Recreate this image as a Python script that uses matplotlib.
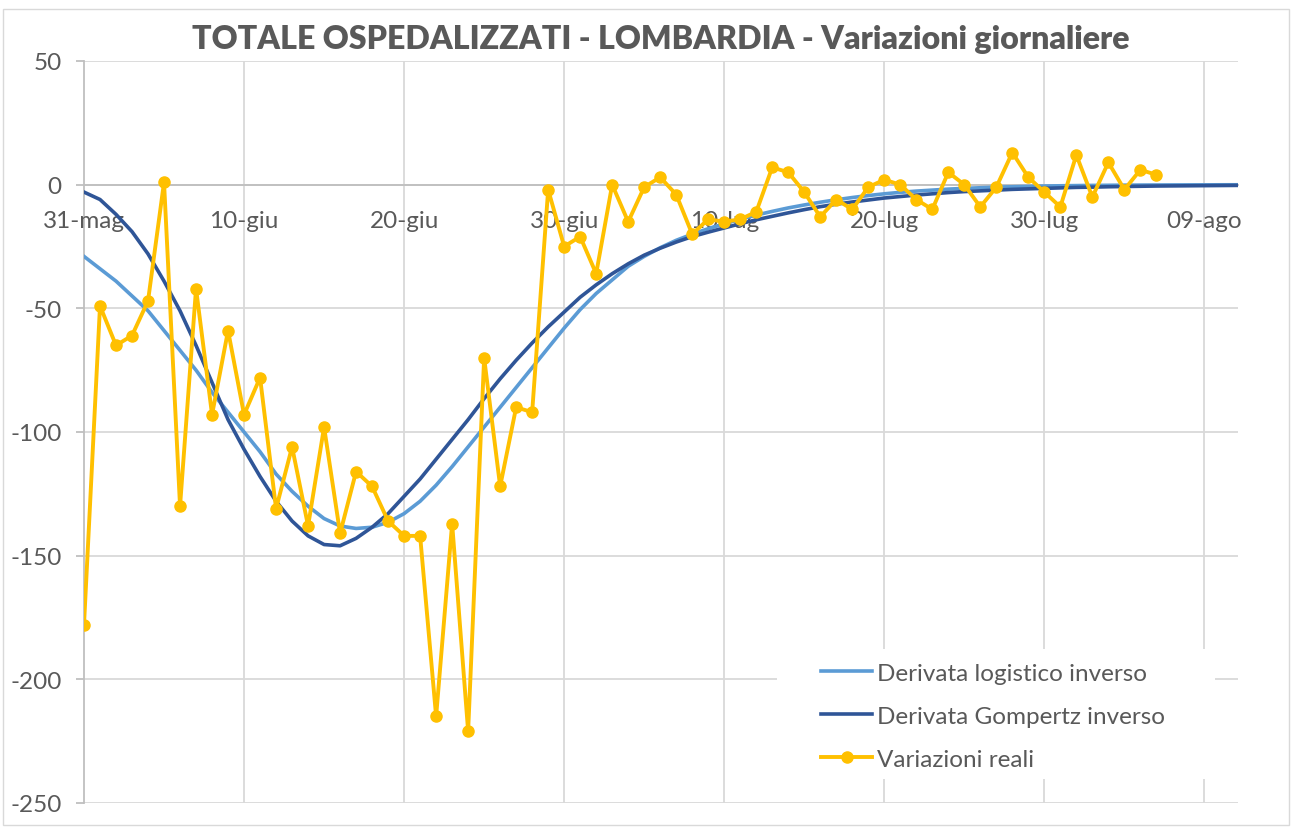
import matplotlib.pyplot as plt
from matplotlib.patches import Rectangle

plt.rcParams["font.family"] = ["Lato", "DejaVu Sans"]
plt.rcParams["axes.unicode_minus"] = False

# days since 31 May
tick_days = [0, 10, 20, 30, 40, 50, 60, 70]
tick_labels = ["31-mag", "10-giu", "20-giu", "30-giu", "10-lug", "20-lug", "30-lug", "09-ago"]
y_ticks = [50, 0, -50, -100, -150, -200, -250]

real_days = list(range(68))
variazioni_reali = [-178, -49, -65, -61, -47, 1, -130, -42, -93, -59,
                    -93, -78, -131, -106, -138, -98, -141, -116, -122, -136,
                    -142, -142, -215, -137, -221, -70, -122, -90, -92, -2,
                    -25, -21, -36, 0, -15, -1, 3, -4, -20, -14,
                    -15, -14, -11, 7, 5, -3, -13, -6, -10, -1,
                    2, 0, -6, -10, 5, 0, -9, -1, 13, 3,
                    -3, -9, 12, -5, 9, -2, 6, 4]

model_days = list(range(73))
logistico = [-29, -34, -39, -45, -51, -59, -67, -75, -84, -92,
             -100, -108, -117, -124, -130, -135, -138, -139, -138.5, -136.5,
             -133, -128, -121.5, -114, -106, -98, -90, -82, -74, -66,
             -58, -50.5, -44, -38.5, -33, -29, -25.5, -22.5, -20, -17.8,
             -15.8, -14, -12.3, -10.8, -9.4, -8.2, -7.1, -6.1, -5.2, -4.4,
             -3.7, -3.1, -2.6, -2.2, -1.8, -1.5, -1.25, -1.0, -0.85, -0.7,
             -0.55, -0.45, -0.37, -0.3, -0.25, -0.2, -0.16, -0.13, -0.1, -0.08,
             -0.07, -0.05, -0.04]
gompertz = [-3, -6, -12, -19, -28, -39, -51, -65, -80, -95,
            -107, -118, -128, -136, -142, -145.5, -146, -143, -138.5, -133,
            -126, -119, -111, -103, -95, -86.5, -78.5, -71, -64, -57.5,
            -51.5, -45.5, -40.5, -36, -32, -28.5, -25.7, -23.2, -21, -19.2,
            -17.5, -15.8, -14.2, -12.8, -11.4, -10.1, -8.9, -7.9, -7.0, -6.2,
            -5.4, -4.8, -4.2, -3.7, -3.2, -2.8, -2.5, -2.2, -1.9, -1.7,
            -1.5, -1.3, -1.1, -1.0, -0.85, -0.75, -0.65, -0.55, -0.5, -0.45,
            -0.4, -0.35, -0.3]

text_col = "#595959"
grid_col = "#D9D9D9"

fig = plt.figure(figsize=(12.92, 8.29), dpi=100)
ax = fig.add_axes([84 / 1292, 1 - 804 / 829, (1238 - 84) / 1292, (804 - 62) / 829])

# outer chart border
fig.add_artist(Rectangle((3 / 1292, 3 / 829), 1286 / 1292, 816 / 829, transform=fig.transFigure,
                         fill=False, edgecolor=grid_col, linewidth=1))

ax.set_xlim(0, 72.1)
ax.set_ylim(-250, 50)

for y in y_ticks:
    ax.axhline(y, color=grid_col, linewidth=1.3, zorder=0.8)
for d in tick_days[1:]:
    ax.axvline(d, color=grid_col, linewidth=1.3, zorder=0.8)

ax.add_patch(Rectangle((0.6005, 0.032), 0.38, 0.1755, transform=ax.transAxes,
                       facecolor="white", edgecolor="none", zorder=1))

ax.plot(model_days, logistico, color="#5B9BD5", linewidth=2.6, zorder=2,
        label="Derivata logistico inverso")
ax.plot(model_days, gompertz, color="#2F5597", linewidth=2.6, zorder=2.1,
        label="Derivata Gompertz inverso")
ax.plot(real_days, variazioni_reali, color="#FFC000", linewidth=2.8, marker="o",
        markersize=8, zorder=2.2, label="Variazioni reali")

for s in ["top", "right"]:
    ax.spines[s].set_visible(False)
ax.spines["bottom"].set_position(("data", 0))
ax.spines["bottom"].set_color("#BFBFBF")
ax.spines["left"].set_color("#BFBFBF")
ax.spines["bottom"].set_linewidth(1.3)
ax.spines["left"].set_linewidth(1.3)
ax.spines["bottom"].set_zorder(0.9)
ax.spines["left"].set_zorder(0.9)

ax.set_xticks(tick_days)
ax.set_xticklabels(tick_labels)
ax.set_yticks(y_ticks)
ax.tick_params(axis="x", length=0, pad=18, labelsize=17.5, labelcolor=text_col)
ax.tick_params(axis="y", length=6, width=1.3, color="#BFBFBF", pad=10,
               labelsize=17.5, labelcolor=text_col)

ax.set_title("TOTALE OSPEDALIZZATI - LOMBARDIA - Variazioni giornaliere",
             fontsize=23.1, fontweight="heavy", color=text_col, pad=9)

leg = ax.legend(loc="center left", bbox_to_anchor=(0.62, 0.117), frameon=False,
                fontsize=17.5, labelcolor=text_col, handlelength=2.1,
                handletextpad=0.2, labelspacing=0.9)
leg.set_zorder(5)

fig.savefig("out.png", dpi=100)
